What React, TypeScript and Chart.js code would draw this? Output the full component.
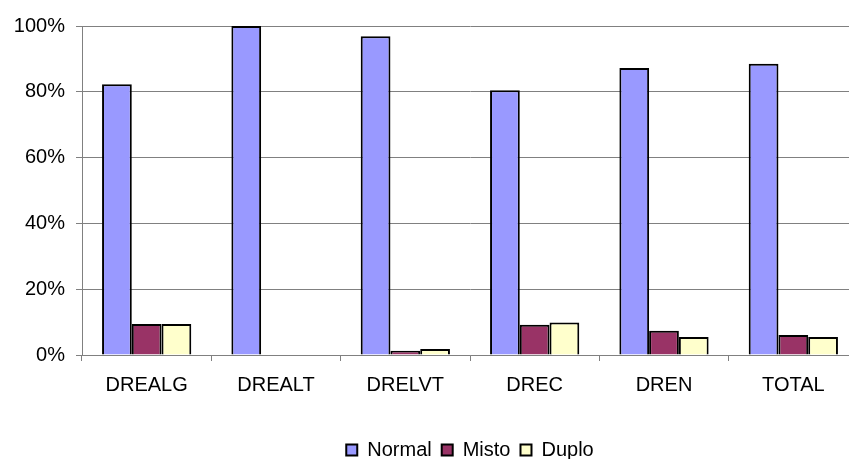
import React, { useEffect, useRef } from "react";
import { Chart, registerables } from "chart.js";

Chart.register(...registerables);

const categories = ["DREALG", "DREALT", "DRELVT", "DREC", "DREN", "TOTAL"];
const normalValues = [82.3, 100, 96.9, 80.5, 87.2, 88.5];
const mistoValues = [9.4, 0, 1.3, 9.2, 7.4, 6.1];
const duploValues = [9.4, 0, 1.8, 9.9, 5.5, 5.5];
const yTicks = [0, 20, 40, 60, 80, 100];

const FONT = "'Liberation Sans', Arial, sans-serif";

export default function App() {
  const ref = useRef<HTMLCanvasElement | null>(null);

  useEffect(() => {
    if (!ref.current) return;
    const chart = new Chart(ref.current, {
      type: "bar",
      data: {
        labels: categories,
        datasets: [
          { label: "Normal", data: normalValues, backgroundColor: "#9999FF", borderColor: "#000000", borderWidth: 2 },
          { label: "Misto", data: mistoValues, backgroundColor: "#993366", borderColor: "#000000", borderWidth: 2 },
          { label: "Duplo", data: duploValues, backgroundColor: "#FFFFCC", borderColor: "#000000", borderWidth: 2 },
        ],
      },
      options: {
        responsive: false,
        animation: false,
        devicePixelRatio: 1,
        datasets: { bar: { categoryPercentage: 0.69, barPercentage: 1 } },
        layout: { padding: { top: 26, right: 12, left: 0, bottom: -11 } },
        plugins: {
          tooltip: { enabled: false },
          legend: {
            position: "bottom",
            fullSize: false,
            labels: {
              font: { family: FONT, size: 20 },
              color: "#000000",
              boxWidth: 11,
              boxHeight: 11,
              padding: 10,
            },
          },
        },
        scales: {
          x: {
            grid: {
              display: true,
              drawOnChartArea: false,
              drawTicks: true,
              tickLength: 6,
              color: "#808080",
              offset: true,
            },
            border: { color: "#808080", width: 1 },
            ticks: {
              font: { family: FONT, size: 20 },
              color: "#000000",
              padding: 12,
              maxRotation: 0,
              autoSkip: false,
            },
            afterFit: (scale: any) => {
              scale.height = 75;
            },
          },
          y: {
            min: 0,
            max: 100,
            afterBuildTicks: (scale: any) => {
              scale.ticks = yTicks.map((v) => ({ value: v }));
            },
            grid: {
              color: "#808080",
              lineWidth: 1,
              drawTicks: true,
              tickLength: 6,
            },
            border: { color: "#808080", width: 1 },
            ticks: {
              font: { family: FONT, size: 20 },
              color: "#000000",
              padding: 11,
              callback: (v: any) => v + "%",
            },
            afterFit: (scale: any) => {
              scale.width = 82;
            },
          },
        },
      },
    });
    return () => chart.destroy();
  }, []);

  return (
    <div
      style={{
        position: "absolute",
        left: 0,
        top: 0,
        width: 849,
        height: 459,
        overflow: "hidden",
        background: "#ffffff",
      }}
    >
      <canvas ref={ref} width={870} height={459} style={{ width: 870, height: 459, display: "block" }} />
    </div>
  );
}
